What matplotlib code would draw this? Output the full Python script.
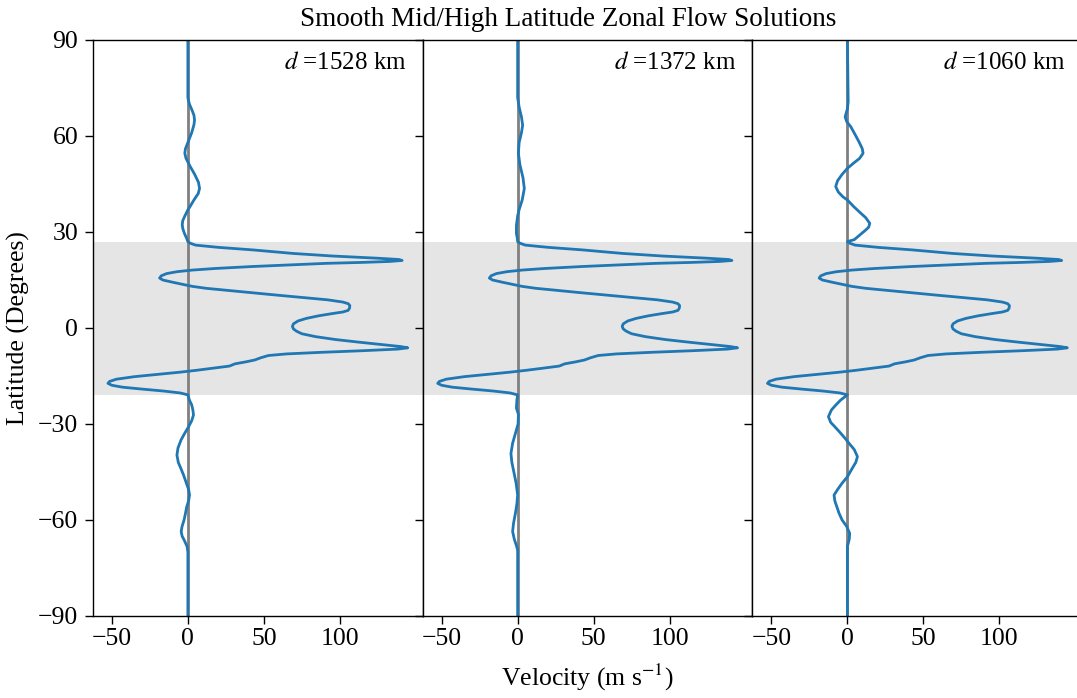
import matplotlib
matplotlib.use('Agg')
import matplotlib.pyplot as plt

plt.rcParams['font.family'] = ['Liberation Serif', 'DejaVu Serif']
plt.rcParams['mathtext.fontset'] = 'stix'
plt.rcParams['font.size'] = 18.5
plt.rcParams['axes.linewidth'] = 1.0
plt.rcParams['xtick.major.size'] = 5.5
plt.rcParams['ytick.major.size'] = 5.5
plt.rcParams['xtick.major.width'] = 1.0
plt.rcParams['ytick.major.width'] = 1.0
plt.rcParams['xtick.major.pad'] = 3
plt.rcParams['ytick.major.pad'] = 5

# equatorial jets, same in all three solutions
lat_eq = [27.0, 26.5, 25.9, 25.2, 24.4, 23.8, 23.3, 22.5, 21.8, 21.4, 21.1, 20.8,
          20.5, 20.2, 19.7, 19.2, 18.6, 18.1, 17.6, 17.0, 16.3, 15.6, 15.0, 14.3,
          13.6, 13.0, 12.4, 11.8, 11.1, 10.3, 9.5, 8.8, 8.1, 7.6, 7.0, 6.2, 5.5,
          5.0, 4.5, 3.8, 3.0, 2.2, 1.3, 0.5, -0.3, -1.0, -1.8, -2.7, -3.6, -4.4,
          -5.2, -5.8, -6.2, -6.6, -7.1, -7.6, -8.1, -8.6, -9.3, -10.0, -10.6,
          -11.2, -11.9, -12.6, -13.2, -13.8, -14.5, -15.2, -16.0, -16.7, -17.3,
          -17.9, -18.5, -19.1, -19.7, -20.3, -20.9]
vel_eq = [0, 1.5, 5.0, 20, 42.8, 57, 69.1, 95, 125, 139, 141, 133,
          115, 91, 66, 42, 18, 3, -7, -14, -17.5, -18.6, -16.5, -10,
          -3, 3, 12, 25, 40, 58, 76, 92, 102, 105.5, 106.6, 106.4, 105.5,
          102, 95, 86, 78, 72.5, 69.5, 68.8, 69.5, 71.5, 75, 84, 97, 112,
          128, 140, 144.7, 138, 115, 88, 65, 53, 48, 44, 38,
          31, 27.4, 16, 6, -5, -20, -35, -47, -51.5, -52.6,
          -50, -43, -30, -16, -5, 0]

# mid/high latitude parts, d = 1528 km
lat_n1 = [90, 72, 70, 68, 66.5, 65, 63.5, 61, 58, 56, 54.6, 53, 50.5, 48, 45.5,
          43.6, 42, 40, 38, 36.9, 35, 33.5, 32.2, 31, 29.5, 28]
vel_n1 = [0, 0, 1.0, 2.8, 4.0, 4.4, 4.0, 2.5, 0, -1.6, -2.0, -1.2, 1.5, 4.5, 7.0,
          7.7, 6.8, 4.0, 1.5, 0, -2.0, -3.4, -3.7, -3.3, -2.2, -0.8]
lat_s1 = [-22.5, -24, -25.6, -27.2, -29, -31, -33, -35, -37.5, -39.7, -42, -44,
          -46, -48.5, -50.5, -52.2, -54, -56, -58, -60, -62, -63.6, -65, -66.5,
          -68.3, -70, -90]
vel_s1 = [1.0, 2.5, 3.3, 3.7, 2.5, 0.3, -2.2, -4.5, -6.5, -7.2, -6.3, -4.5,
          -2.8, -1.0, 0.5, 1.1, 0.5, -0.8, -1.6, -2.5, -3.8, -4.4, -3.8, -2.2,
          -0.5, 0, 0]

# d = 1372 km
lat_n2 = [90, 72, 69, 66, 63.4, 61, 58, 54.6, 51, 47, 43.6, 40, 37, 35, 32, 29.5, 28]
vel_n2 = [0, 0, 1.0, 2.5, 3.3, 2.5, 1.0, 0.5, 1.5, 3.5, 4.4, 3.0, 1.0, 0, -0.8, -0.8, -0.2]
lat_s2 = [-22.5, -25, -27, -30, -33, -36, -39.2, -42, -45, -48.5, -52.2, -55,
          -58, -61, -63.6, -66, -68, -69.4, -90]
vel_s2 = [-0.5, -0.8, 0.5, 0.3, -1.5, -3.3, -4.4, -3.8, -2.5, -1.0, 0, -0.5,
          -1.5, -2.7, -3.3, -2.2, -0.8, 0, 0]

# d = 1060 km
lat_n3 = [90, 70.7, 68.5, 66, 64.5, 62.9, 60.5, 58, 56, 54.6, 53, 51.5, 49.9, 48,
          46, 44.2, 42.5, 41, 40, 38, 36, 34.5, 32.7, 31.5, 30.6, 29, 27.6]
vel_n3 = [0, 0.5, 0, -1.5, -0.5, 2.2, 5.0, 7.8, 9.8, 10.3, 8.0, 4.0, 0, -3.5,
          -6.5, -7.7, -6.0, -3.0, 0, 4.0, 8.5, 12.0, 14.7, 14.0, 12.0, 8.0, 4.5]
lat_s3 = [-22.5, -24, -25.6, -27.7, -29.5, -31, -32.9, -34.5, -36, -38, -40.2,
          -42, -44, -46.5, -48.5, -50.5, -52.2, -54, -57.9, -60, -62, -64.2, -66,
          -68.3, -90]
vel_s3 = [-4.4, -7.5, -10.5, -12.5, -11.0, -8.0, -4.4, -1.5, 1.0, 4.5, 6.6,
          5.5, 3.0, 0, -3.5, -6.5, -8.8, -8.3, -5.5, -3.5, -0.5, 1.5, 1.2,
          0, 0]

labels = ['1528', '1372', '1060']
lats = [lat_n1 + lat_eq + lat_s1, lat_n2 + lat_eq + lat_s2, lat_n3 + lat_eq + lat_s3]
vels = [vel_n1 + vel_eq + vel_s1, vel_n2 + vel_eq + vel_s2, vel_n3 + vel_eq + vel_s3]

fig = plt.figure(figsize=(10.77, 6.98), dpi=100)
left, bottom, w, h = 0.0863, 0.1175, 0.3062, 0.8252
axes = []
for i in range(3):
    ax = fig.add_axes([left + i * w, bottom, w, h])
    ax.axhspan(-21, 27, color='gray', alpha=0.2, lw=0)
    ax.axvline(0, color='gray', lw=2)
    ax.plot(vels[i], lats[i], color='C0', lw=2)
    ax.set_ylim(-90, 90)
    ax.set_yticks([-90, -60, -30, 0, 30, 60, 90])
    ax.set_xticks([-50, 0, 50, 100])
    ax.text(0.951, 0.96, r'$d$ =' + labels[i] + ' km', transform=ax.transAxes,
            ha='right', va='center', fontsize=18)
    if i > 0:
        ax.set_yticklabels([])
    axes.append(ax)

axes[0].set_ylabel('Latitude (Degrees)', labelpad=6)
axes[1].set_xlabel(r'Velocity (m s$^{-1}$)', labelpad=9)
fig.text(0.528, 0.99, 'Smooth Mid/High Latitude Zonal Flow Solutions',
         ha='center', va='top', fontsize=19.5)

fig.savefig('out.png', dpi=100)
